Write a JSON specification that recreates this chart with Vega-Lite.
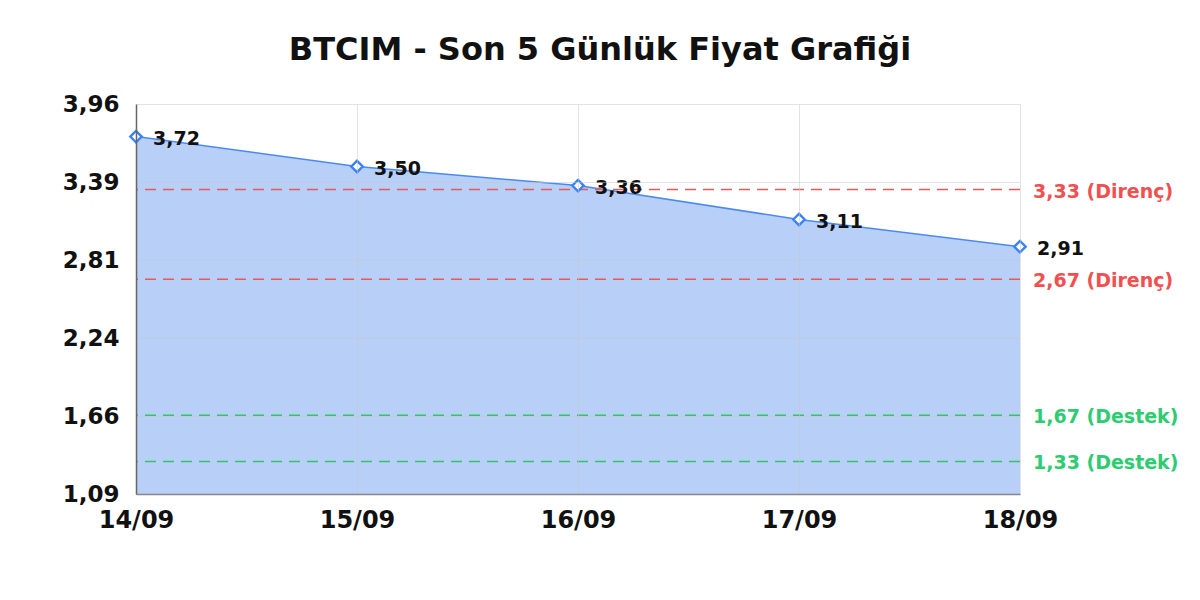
{
  "$schema": "https://vega.github.io/schema/vega-lite/v6.json",
  "autosize": {"type": "none"},
  "width": 884,
  "height": 390,
  "padding": {"left": 136, "top": 104, "right": 180, "bottom": 106},
  "background": "white",
  "title": {
    "text": "BTCIM - Son 5 Günlük Fiyat Grafiği",
    "font": "DejaVu Sans",
    "fontSize": 32,
    "fontWeight": "bold",
    "color": "#111111",
    "anchor": "middle",
    "dx": 22,
    "offset": 26
  },
  "datasets": {
    "prices": [
      {"date": "14/09", "price": 3.72},
      {"date": "15/09", "price": 3.50},
      {"date": "16/09", "price": 3.36},
      {"date": "17/09", "price": 3.11},
      {"date": "18/09", "price": 2.91}
    ],
    "levels": [
      {"level": 3.33, "label": "3,33 (Direnç)", "kind": "Direnç"},
      {"level": 2.67, "label": "2,67 (Direnç)", "kind": "Direnç"},
      {"level": 1.67, "label": "1,67 (Destek)", "kind": "Destek"},
      {"level": 1.33, "label": "1,33 (Destek)", "kind": "Destek"}
    ]
  },
  "layer": [
    {
      "data": {"name": "prices"},
      "mark": {"type": "area", "clip": true, "color": "#b8cff8", "opacity": 1, "line": {"color": "#4a8af0", "strokeWidth": 1.5}},
      "encoding": {
        "x": {
          "field": "date", "type": "ordinal",
          "scale": {"type": "point", "padding": 0},
          "axis": {
            "title": null, "labelAngle": 0, "labelFont": "DejaVu Sans", "labelFontSize": 24,
            "labelFontWeight": "bold", "labelColor": "#111111", "labelPadding": 14,
            "ticks": false, "domainColor": "#888888", "domainWidth": 1.5,
            "grid": true, "gridColor": "#c8c8c8", "gridOpacity": 0.5, "zindex": 1
          }
        },
        "y": {
          "field": "price", "type": "quantitative",
          "scale": {"domain": [1.09, 3.96], "nice": false, "zero": false},
          "axis": {
            "title": null, "values": [1.09, 1.664, 2.238, 2.812, 3.386, 3.96],
            "format": ".2f",
            "labelFont": "DejaVu Sans", "labelFontSize": 23, "labelFontWeight": "bold",
            "labelColor": "#111111", "labelPadding": 17, "ticks": false,
            "domainColor": "#666666", "domainWidth": 1.5,
            "grid": true, "gridColor": "#c8c8c8", "gridOpacity": 0.5, "zindex": 1
          }
        }
      }
    },
    {
      "data": {"name": "levels"},
      "mark": {"type": "rule", "strokeDash": [11, 7], "strokeWidth": 1.5},
      "encoding": {
        "y": {"field": "level", "type": "quantitative"},
        "color": {
          "field": "kind", "type": "nominal", "legend": null,
          "scale": {"domain": ["Direnç", "Destek"], "range": ["#e85a5a", "#33c466"]}
        }
      }
    },
    {
      "data": {"name": "levels"},
      "mark": {"type": "text", "align": "left", "baseline": "middle", "dx": 13, "dy": 2, "font": "DejaVu Sans", "fontSize": 19, "fontWeight": "bold"},
      "encoding": {
        "x": {"datum": "18/09", "type": "ordinal"},
        "y": {"field": "level", "type": "quantitative"},
        "text": {"field": "label"},
        "color": {
          "field": "kind", "type": "nominal", "legend": null,
          "scale": {"domain": ["Direnç", "Destek"], "range": ["#f05050", "#2ecc71"]}
        }
      }
    },
    {
      "data": {"name": "prices"},
      "mark": {"type": "point", "shape": "diamond", "size": 130, "filled": true, "fill": "white", "stroke": "#3b82f6", "strokeWidth": 2.4, "opacity": 1},
      "encoding": {
        "x": {"field": "date", "type": "ordinal"},
        "y": {"field": "price", "type": "quantitative"}
      }
    },
    {
      "data": {"name": "prices"},
      "mark": {"type": "text", "align": "left", "baseline": "middle", "dx": 17, "dy": 2, "font": "DejaVu Sans", "fontSize": 19, "fontWeight": "bold", "color": "#111111"},
      "encoding": {
        "x": {"field": "date", "type": "ordinal"},
        "y": {"field": "price", "type": "quantitative"},
        "text": {"field": "price", "type": "quantitative", "format": ".2f"}
      }
    }
  ],
  "resolve": {"scale": {"color": "independent"}},
  "config": {
    "view": {"stroke": null},
    "locale": {
      "number": {"decimal": ",", "thousands": ".", "grouping": [3], "currency": ["", " ₺"]}
    }
  }
}
